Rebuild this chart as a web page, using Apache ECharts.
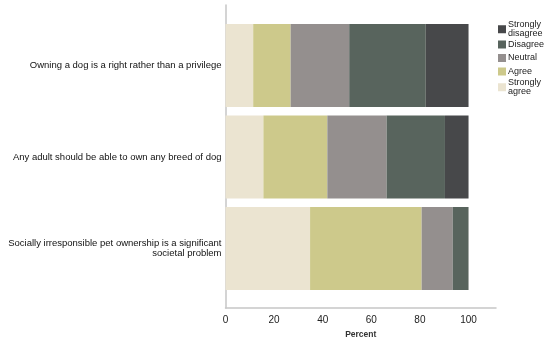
<!DOCTYPE html>
<html>
<head>
<meta charset="utf-8">
<script src="https://cdn.jsdelivr.net/npm/echarts@6/dist/echarts.min.js"></script>
<style>html,body{margin:0;padding:0;background:#fff}#c{width:550px;height:344px}</style>
</head>
<body>
<div id="c"></div>
<script>
const categories = [
  "Owning a dog is a right rather than a privilege",
  "Any adult should be able to own any breed of dog",
  "Socially irresponsible pet ownership is a significant\nsocietal problem"
];
const seriesNames = ["Strongly\nagree", "Agree", "Neutral", "Disagree", "Strongly\ndisagree"];
const stronglyAgree = [11.4, 15.6, 34.8];
const agree = [15.4, 26.3, 45.9];
const neutral = [24.1, 24.4, 12.8];
const disagree = [31.5, 24.0, 6.5];
const stronglyDisagree = [17.6, 9.7, 0];
const xTicks = [0, 20, 40, 60, 80, 100];
const colors = ["#ebe4d1", "#cdc98b", "#948f8e", "#58645d", "#47484a"];
const values = [stronglyAgree, agree, neutral, disagree, stronglyDisagree];

const XMAX = 111.3;
const chart = echarts.init(document.getElementById('c'), null, {renderer: 'canvas'});
const font = "'Liberation Sans', Arial, sans-serif";

const legendTops = {"Strongly\ndisagree": 20.5, "Disagree": 40, "Neutral": 53.5, "Agree": 67, "Strongly\nagree": 78.5};
const legendOrder = ["Strongly\ndisagree", "Disagree", "Neutral", "Agree", "Strongly\nagree"];

chart.setOption({
  animation: false,
  backgroundColor: '#fff',
  grid: [
    {left: 225.5, right: 54, top: 5, bottom: 36},
    {left: 225.5, right: 54, top: 19.75, height: 274.5}
  ],
  xAxis: [
    {gridIndex: 0, type: 'value', min: 0, max: XMAX, interval: 20,
     axisLine: {show: true, lineStyle: {color: '#c6c6c6', width: 1.5}},
     axisTick: {show: false}, splitLine: {show: false},
     axisLabel: {fontFamily: font, fontSize: 10, color: '#222', margin: 7, showMaxLabel: false,
       formatter: v => xTicks.includes(v) ? String(v) : ''},
     name: 'Percent', nameLocation: 'middle', nameGap: 22,
     nameTextStyle: {fontFamily: font, fontSize: 8.5, fontWeight: 'bold', color: '#333'}},
    {gridIndex: 1, type: 'value', min: 0, max: XMAX, show: false}
  ],
  yAxis: [
    {gridIndex: 0, type: 'category', data: [''],
     axisLine: {show: true, lineStyle: {color: '#c6c6c6', width: 1.5}},
     axisTick: {show: false}, axisLabel: {show: false}},
    {gridIndex: 1, type: 'category', inverse: true, data: categories,
     axisLine: {show: false}, axisTick: {show: false},
     axisLabel: {fontFamily: font, fontSize: 9.5, color: '#111', margin: 4, lineHeight: 10, align: 'right'}}
  ],
  legend: legendOrder.map(n => ({
    data: [n], orient: 'vertical', left: 498, top: legendTops[n],
    itemWidth: 8, itemHeight: 8, icon: 'rect', selectedMode: false, padding: 0,
    textStyle: {fontFamily: font, fontSize: 9, color: '#222', lineHeight: 8.5, padding: [0, 0, 0, -3]}
  })),
  series: seriesNames.map((n, i) => ({
    name: n, type: 'bar', stack: 'total', xAxisIndex: 1, yAxisIndex: 1,
    barWidth: 83, itemStyle: {color: colors[i]}, data: values[i]
  }))
});
</script>
</body>
</html>
